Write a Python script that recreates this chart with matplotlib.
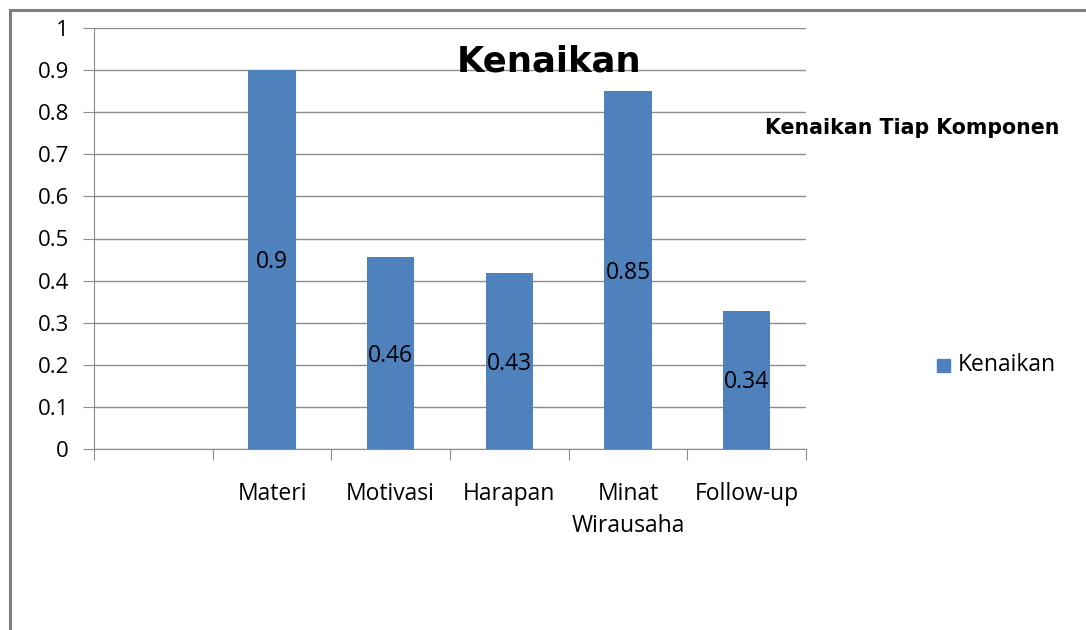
import matplotlib
matplotlib.use("Agg")
import matplotlib.pyplot as plt
from matplotlib.patches import Rectangle
from matplotlib.lines import Line2D

categories = ["", "Materi", "Motivasi", "Harapan", "Minat\nWirausaha", "Follow-up"]
values = [None, 0.9, 0.456, 0.418, 0.85, 0.328]
value_labels = ["", "0.9", "0.46", "0.43", "0.85", "0.34"]
yticks = [0, 0.1, 0.2, 0.3, 0.4, 0.5, 0.6, 0.7, 0.8, 0.9, 1]
ytick_labels = ["0", "0.1", "0.2", "0.3", "0.4", "0.5", "0.6", "0.7", "0.8", "0.9", "1"]
series_name = "Kenaikan"

BLUE = "#4f81bd"
GRID = "#8c8c8c"
FONT = "Open Sans"

W, H = 1086, 630
fig = plt.figure(figsize=(W / 100, H / 100), dpi=100)
fig.patch.set_facecolor("white")

# outer frame lines (left and top)
fig.add_artist(Line2D([10 / W, 10 / W], [0, 1 - 10 / H], transform=fig.transFigure,
                      color="#7f7f7f", lw=2.2))
fig.add_artist(Line2D([10 / W, 1], [1 - 10 / H, 1 - 10 / H], transform=fig.transFigure,
                      color="#7f7f7f", lw=2.2))

ax = fig.add_axes([94 / W, 1 - 449 / H, (806 - 94) / W, (449 - 28) / H])
n = len(categories)
xs = list(range(n))
for i, v in enumerate(values):
    if v is None:
        continue
    ax.bar(i, v, width=0.4, color=BLUE, zorder=3)
    ax.text(i, v / 2 - 0.006, value_labels[i], ha="center", va="center", fontsize=16.5,
            family=FONT, color="black", zorder=4)

ax.set_xlim(-0.5, n - 0.5)
ax.set_ylim(0, 1)
ax.set_yticks(yticks)
ax.set_yticklabels(ytick_labels, family=FONT, fontsize=16)
ax.yaxis.grid(True, color=GRID, lw=1)
ax.set_axisbelow(True)
ax.set_xticks([i - 0.5 for i in range(n + 1)])
ax.set_xticklabels([])
ax.set_xticks(xs, minor=True)
ax.set_xticklabels(categories, minor=True, family=FONT, fontsize=16.5, linespacing=1.4)
ax.tick_params(axis="x", which="minor", length=0, pad=24)
ax.tick_params(axis="x", which="major", length=8, color=GRID, direction="out")
ax.tick_params(axis="y", length=8, color=GRID, direction="out", pad=10)
for s in ["top", "right"]:
    ax.spines[s].set_visible(False)
for s in ["left", "bottom"]:
    ax.spines[s].set_color(GRID)

fig.text(549 / W, 1 - 62 / H, "Kenaikan", ha="center", va="center",
         fontsize=25.5, fontweight="bold", family="DejaVu Sans")
fig.text(912 / W, 1 - 128 / H, "Kenaikan Tiap Komponen", ha="center", va="center",
         fontsize=14.8, fontweight="bold", family="DejaVu Sans")

# legend
fig.add_artist(Rectangle((937 / W, 1 - 372 / H), 13 / W, 13 / H,
                         transform=fig.transFigure, color=BLUE))
fig.text(958 / W, 1 - 365 / H, series_name, ha="left", va="center",
         fontsize=16.5, family=FONT)

fig.savefig("out.png", dpi=100)
